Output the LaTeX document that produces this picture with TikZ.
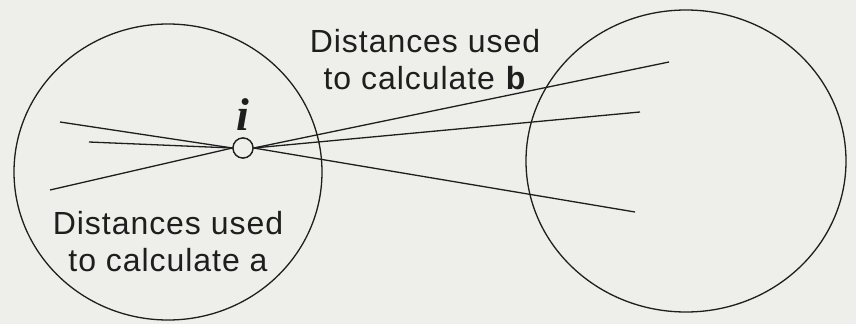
\documentclass[tikz,border=0pt]{standalone}
\usepackage{fontspec}
\setmainfont{Liberation Sans}[LetterSpace=3]
\newfontfamily\serifi{Liberation Serif}
\definecolor{ink}{HTML}{1E1E1E}
\definecolor{paper}{HTML}{EEEEEA}
\begin{document}
\begin{tikzpicture}[x=1pt,y=-1pt,line width=1.3pt,color=ink,
  labeltext/.style={font=\fontsize{32}{37}\selectfont,align=center,inner sep=0pt,text=ink},
  pointmark/.style={circle,draw=ink,fill=paper,minimum size=20pt,inner sep=0pt}]
\fill[paper] (0,0) rectangle (856,324);
\useasboundingbox (0,0) rectangle (856,324);
\draw (168,172) ellipse [x radius=154pt, y radius=148pt];
\draw (686,161) ellipse [x radius=160pt, y radius=151pt];
\coordinate (l1) at (60,122);
\coordinate (l2) at (89,142);
\coordinate (l3) at (50,190);
\coordinate (r1) at (669,62);
\coordinate (r2) at (640,112);
\coordinate (r3) at (635,212);
\node[pointmark] (i) at (243,148) {};
\draw (i.west) -- (l1);
\draw (i.west) -- (l2);
\draw (i.west) -- (l3);
\draw (i.east) -- (r1);
\draw (i.east) -- (r2);
\draw (i.east) -- (r3);
\node[pointmark] at (i) {};
\node[font=\serifi\bfseries\itshape\fontsize{46}{46}\selectfont,text=ink,anchor=base,inner sep=0pt] (ilabel) at (243,130) {i};
\node[labeltext,anchor=north] (tb) at (425,29) {Distances used\\to calculate \textbf{b}};
\node[labeltext,anchor=north] (ta) at (168,211) {Distances used\\to calculate a};
\end{tikzpicture}
\end{document}
